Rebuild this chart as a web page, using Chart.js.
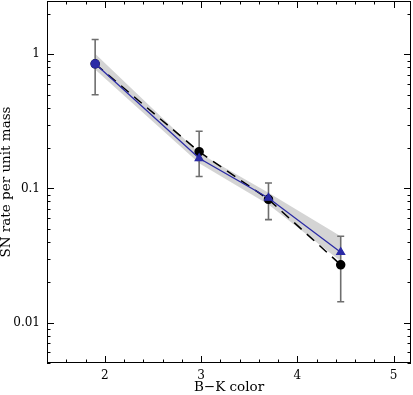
<!DOCTYPE html>
<html><head><meta charset="utf-8">
<script src="https://cdn.jsdelivr.net/npm/chart.js@4/dist/chart.umd.min.js"></script>
<style>html,body{margin:0;padding:0;background:#fff}#wrap{width:413px;height:395px}</style>
</head><body><div id="wrap"><canvas id="c" width="413" height="395"></canvas></div>
<script>
const xVals = [1.9, 2.98, 3.7, 4.45];
const blackRate = [0.85, 0.188, 0.083, 0.027];
const blueRate = [0.85, 0.168, 0.085, 0.0335];
const errHigh = [1.29, 0.267, 0.11, 0.044];
const errLow = [0.50, 0.123, 0.0586, 0.0143];
const bandUpper = [1.01, 0.184, 0.093, 0.044];
const bandLower = [0.77, 0.154, 0.076, 0.0287];
const xTickLabels = [2, 3, 4, 5];
const yTickLabels = [0.01, 0.1, 1];

const pts = a => xVals.map((x, i) => ({x: x, y: a[i]}));
const FONT = "'DejaVu Serif', serif";

const errorBars = {
  id: 'errorBars',
  afterDatasetDraw(chart, args) {
    if (args.index !== 1) return;
    const ctx = chart.ctx, xs = chart.scales.x, ys = chart.scales.y;
    ctx.save();
    ctx.strokeStyle = '#6e6e6e'; ctx.lineWidth = 1.6;
    xVals.forEach((x, i) => {
      const px = xs.getPixelForValue(x);
      const y1 = ys.getPixelForValue(errHigh[i]), y2 = ys.getPixelForValue(errLow[i]);
      ctx.beginPath();
      ctx.moveTo(px, y1); ctx.lineTo(px, y2);
      ctx.moveTo(px - 3.5, y1); ctx.lineTo(px + 3.5, y1);
      ctx.moveTo(px - 3.5, y2); ctx.lineTo(px + 3.5, y2);
      ctx.stroke();
    });
    ctx.restore();
  }
};

const frame = {
  id: 'frame',
  afterDraw(chart) {
    const ctx = chart.ctx, a = chart.chartArea, xs = chart.scales.x, ys = chart.scales.y;
    ctx.save();
    ctx.strokeStyle = '#000'; ctx.lineWidth = 1;
    ctx.strokeRect(a.left + 0.5, a.top + 0.5, a.right - a.left - 1, a.bottom - a.top - 1);
    ctx.beginPath();
    for (let v = xs.min; v <= xs.max + 1e-9; v += 0.2) {
      const r = Math.round(v * 5) / 5;
      const px = Math.round(xs.getPixelForValue(r)) + 0.5;
      const len = Math.abs(r - Math.round(r)) < 1e-6 ? 7 : 3.5;
      ctx.moveTo(px, a.bottom); ctx.lineTo(px, a.bottom - len);
      ctx.moveTo(px, a.top); ctx.lineTo(px, a.top + len);
    }
    for (let e = -3; e <= 0; e++) {
      for (let m = 1; m <= 9; m++) {
        const v = m * Math.pow(10, e);
        if (v < ys.min || v > ys.max) continue;
        const py = Math.round(ys.getPixelForValue(v)) + 0.5;
        const len = m === 1 ? 7 : 3.5;
        ctx.moveTo(a.left, py); ctx.lineTo(a.left + len, py);
        ctx.moveTo(a.right, py); ctx.lineTo(a.right - len, py);
      }
    }
    ctx.stroke();
    ctx.restore();
  }
};

new Chart(document.getElementById('c'), {
  type: 'line',
  data: {
    datasets: [
      {data: pts(bandUpper), order: 4, borderWidth: 0, pointRadius: 0, fill: false, backgroundColor: 'rgba(200,200,200,0.8)'},
      {data: pts(bandLower), order: 3, borderWidth: 0, pointRadius: 0, fill: '-1', backgroundColor: 'rgba(205,205,205,0.85)'},
      {data: pts(blackRate), order: 2, borderColor: '#000', borderWidth: 1.5, borderDash: [10, 7], pointRadius: 4, pointBackgroundColor: '#000', pointBorderColor: '#000', fill: false},
      {data: pts(blueRate), order: 1, borderColor: '#2b2ba6', borderWidth: 1.3, pointStyle: ['circle', 'triangle', 'triangle', 'triangle'], pointRadius: [4, 4.5, 4.5, 4.5], pointBackgroundColor: '#2b2ba6', pointBorderColor: '#2b2ba6', fill: false}
    ]
  },
  options: {
    responsive: false, animation: false, events: [],
    layout: {autoPadding: false, padding: {top: 1, right: 2, left: 0, bottom: 0}},
    plugins: {legend: {display: false}, tooltip: {enabled: false}},
    scales: {
      x: {
        type: 'linear', min: 1.4, max: 5.18,
        grid: {display: false, drawTicks: false}, border: {display: false},
        afterBuildTicks: s => { s.ticks = xTickLabels.map(v => ({value: v})); },
        afterFit: s => { s.height = 32; s.paddingLeft = 0; s.paddingRight = 0; },
        ticks: {font: {family: FONT, size: 12}, color: '#000', padding: 6, callback: v => String(v)},
        title: {display: true, text: 'B\u2212K color', font: {family: FONT, size: 13.5}, color: '#000', padding: {top: 0, bottom: -1}}
      },
      y: {
        type: 'logarithmic', min: 0.005, max: 2.5,
        grid: {display: false, drawTicks: false}, border: {display: false},
        afterBuildTicks: s => { s.ticks = yTickLabels.map(v => ({value: v})); },
        afterFit: s => { s.width = 47; s.paddingTop = 0; s.paddingBottom = 0; },
        ticks: {font: {family: FONT, size: 12}, color: '#000', padding: 7, callback: v => String(v)},
        title: {display: true, text: 'SN rate per unit mass', font: {family: FONT, size: 13.5}, color: '#000', padding: {top: -1.5, bottom: 0}}
      }
    }
  },
  plugins: [errorBars, frame]
});
</script></body></html>
